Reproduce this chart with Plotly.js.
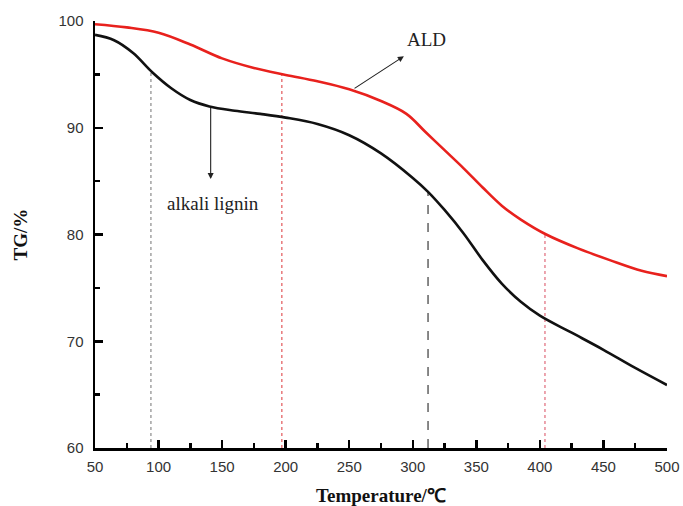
<!DOCTYPE html>
<html>
<head>
<meta charset="utf-8">
<script src="https://cdn.plot.ly/plotly-3.0.1.min.js"></script>
<style>
  html, body { margin: 0; padding: 0; background: #fff; }
  #chart { width: 683px; height: 506px; }
</style>
</head>
<body>
<div id="chart"></div>
<script>
// Thermogravimetric curves: temperature (°C) vs. remaining mass (%)
const ligninTemp = [50, 65, 80, 95, 110, 125, 140, 160, 180, 200, 225, 250, 275, 300, 312, 325, 340, 355, 370, 385, 400, 425, 450, 475, 500];
const ligninTG   = [98.7, 98.2, 97.0, 95.2, 93.7, 92.6, 92.0, 91.6, 91.3, 90.95, 90.35, 89.3, 87.6, 85.3, 84.0, 82.3, 80.1, 77.6, 75.4, 73.7, 72.4, 70.8, 69.2, 67.5, 65.9];

const aldTemp = [50, 75, 100, 125, 150, 175, 200, 225, 250, 275, 295, 310, 325, 340, 355, 370, 385, 405, 430, 455, 480, 500];
const aldTG   = [99.7, 99.4, 98.9, 97.8, 96.5, 95.6, 94.95, 94.35, 93.6, 92.5, 91.3, 89.6, 87.9, 86.2, 84.4, 82.7, 81.4, 80.0, 78.7, 77.6, 76.6, 76.1];

// Reference temperatures marked with drop lines, and the TG value where each line starts
const dropTemp  = [94, 197, 312, 404];
const dropTop   = [95.3, 95.0, 84.0, 80.0];
const dropColor = ['#8a8a8a', '#e2575a', '#3a3a3a', '#e06a7a'];
const dropDash  = ['dot', 'dot', 'dash', 'dot'];

const xTicks = [50, 100, 150, 200, 250, 300, 350, 400, 450, 500];
const yTicks = [60, 70, 80, 90, 100];

const traces = [];
dropTemp.forEach((t, i) => {
  traces.push({
    x: [t, t], y: [60, dropTop[i]],
    mode: 'lines', hoverinfo: 'skip', showlegend: false,
    line: { color: dropColor[i], width: 1.2, dash: dropDash[i] }
  });
});
traces.push({
  x: ligninTemp, y: ligninTG, name: 'alkali lignin',
  mode: 'lines', line: { color: '#111111', width: 2.6, shape: 'spline', smoothing: 1 }
});
traces.push({
  x: aldTemp, y: aldTG, name: 'ALD',
  mode: 'lines', line: { color: '#e8211d', width: 2.6, shape: 'spline', smoothing: 1 }
});

const serif = 'Liberation Serif, Times New Roman, serif';
const sans = 'Liberation Sans, Arial, sans-serif';

const axisCommon = {
  showgrid: false, zeroline: false,
  showline: true, linecolor: '#000', linewidth: 2.5,
  ticks: 'inside', ticklen: 8, tickwidth: 2.5, tickcolor: '#000',
  tickfont: { family: sans, size: 15, color: '#333' },
  minor: { ticks: 'inside', ticklen: 5, tickwidth: 2.5, tickcolor: '#000', showgrid: false }
};

const layout = {
  width: 683, height: 506,
  margin: { l: 95, r: 16, t: 21, b: 58 },
  paper_bgcolor: '#fff', plot_bgcolor: '#fff',
  showlegend: false,
  xaxis: Object.assign({}, axisCommon, {
    range: [50, 500], tickvals: xTicks, ticktext: xTicks.map(String),
    ticklabelstandoff: 3,
    minor: Object.assign({}, axisCommon.minor, { dtick: 25, tick0: 50 }),
    title: { text: 'Temperature/℃', font: { family: serif, size: 19, weight: 'bold', color: '#111' }, standoff: 16 }
  }),
  yaxis: Object.assign({}, axisCommon, {
    range: [60, 100], tickvals: yTicks, ticktext: yTicks.map(String),
    ticklabelstandoff: 6,
    minor: Object.assign({}, axisCommon.minor, { dtick: 5, tick0: 60 }),
    title: { text: 'TG/%', font: { family: serif, size: 19, weight: 'bold', color: '#111' }, standoff: 26 }
  }),
  annotations: [
    { x: 141, y: 85.2, ax: 141, ay: 92.0, axref: 'x', ayref: 'y', xref: 'x', yref: 'y',
      text: '', showarrow: true, arrowhead: 2, arrowsize: 1.1, arrowwidth: 1.1, arrowcolor: '#222' },
    { x: 143, y: 82.9, xref: 'x', yref: 'y', text: 'alkali lignin', showarrow: false,
      font: { family: serif, size: 19, color: '#222' } },
    { x: 293, y: 96.7, ax: 253, ay: 93.6, axref: 'x', ayref: 'y', xref: 'x', yref: 'y',
      text: '', showarrow: true, arrowhead: 2, arrowsize: 1.1, arrowwidth: 1.1, arrowcolor: '#222' },
    { x: 311, y: 98.3, xref: 'x', yref: 'y', text: 'ALD', showarrow: false,
      font: { family: serif, size: 19, color: '#222' } }
  ]
};

Plotly.newPlot('chart', traces, layout, { staticPlot: true, displayModeBar: false });
</script>
</body>
</html>
